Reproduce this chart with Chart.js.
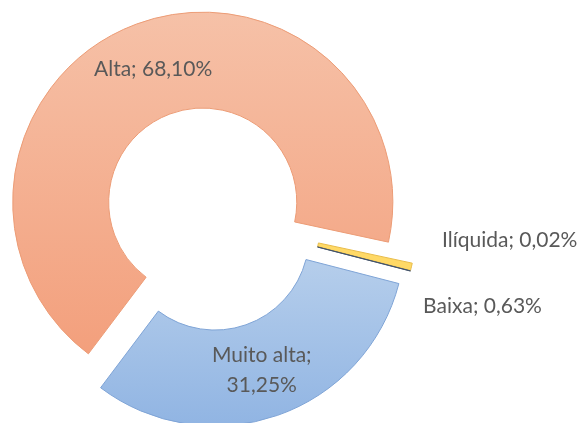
<!DOCTYPE html>
<html>
<head>
<meta charset="utf-8">
<script src="https://cdn.jsdelivr.net/npm/chart.js@4"></script>
<style>
  html, body { margin: 0; padding: 0; background: #fff; }
  #wrap { width: 586px; height: 423px; position: relative; }
</style>
</head>
<body>
<div id="wrap"><canvas id="liquidezChart"></canvas></div>
<script>
// categories and shares (%), clockwise from the start angle
const categories = ['Alta', 'Baixa', 'Ilíquida', 'Muito alta'];
const shares = [68.10, 0.63, 0.02, 31.25];

const EXPLODE = 18;      // px each slice is pulled out
const LABEL_FONT = '21px Lato';
const LABEL_COLOR = '#595959';
// small nudges for the two labels that sit outside the ring
const outsideNudge = { 'Baixa': { dx: 0, dy: 37 }, 'Ilíquida': { dx: 20, dy: -34 } };

const canvas = document.getElementById('liquidezChart');
const ctx = canvas.getContext('2d');

const altaGrad = ctx.createLinearGradient(0, 10, 0, 365);
altaGrad.addColorStop(0, '#F6C3AA');
altaGrad.addColorStop(1, '#F3A07D');
const muitoGrad = ctx.createLinearGradient(0, 250, 0, 425);
muitoGrad.addColorStop(0, '#B4CDEB');
muitoGrad.addColorStop(1, '#8DB2E2');

function fmt(v) {
  return v.toFixed(2).replace('.', ',') + '%';
}

// draw every arc pulled out along its own mid angle
const explodePlugin = {
  id: 'explode',
  beforeDatasetDraw(chart, args) {
    const c = chart.ctx;
    args.meta.data.forEach(arc => {
      const mid = (arc.startAngle + arc.endAngle) / 2;
      c.save();
      c.translate(Math.cos(mid) * EXPLODE, Math.sin(mid) * EXPLODE);
      arc.draw(c);
      c.restore();
    });
    return false;
  }
};

const labelPlugin = {
  id: 'sliceLabels',
  afterDatasetsDraw(chart) {
    const c = chart.ctx;
    const meta = chart.getDatasetMeta(0);
    c.save();
    c.font = LABEL_FONT;
    c.fillStyle = LABEL_COLOR;
    c.textBaseline = 'middle';
    meta.data.forEach((arc, i) => {
      const mid = (arc.startAngle + arc.endAngle) / 2;
      const text = categories[i] + '; ' + fmt(shares[i]);
      const nudge = outsideNudge[categories[i]];
      if (nudge) {
        const r = arc.outerRadius + EXPLODE + 12;
        c.textAlign = 'left';
        c.fillText(text, arc.x + Math.cos(mid) * r + nudge.dx, arc.y + Math.sin(mid) * r + nudge.dy);
        return;
      }
      const r = EXPLODE + (arc.innerRadius + arc.outerRadius) / 2;
      const x = arc.x + Math.cos(mid) * r;
      const y = arc.y + Math.sin(mid) * r;
      c.textAlign = 'center';
      if (c.measureText(text).width > 150) {
        c.fillText(categories[i] + ';', x, y - 15);
        c.fillText(fmt(shares[i]), x, y + 15);
      } else {
        c.fillText(text, x, y);
      }
    });
    c.restore();
  }
};

new Chart(ctx, {
  type: 'doughnut',
  data: {
    labels: categories,
    datasets: [{
      data: shares,
      backgroundColor: [altaGrad, '#FFD966', '#8497B0', muitoGrad],
      borderColor: ['#EC9C76', '#E8BC4A', '#44546A', '#7FA4D6'],
      borderWidth: 1,
      borderAlign: 'center'
    }]
  },
  options: {
    responsive: true,
    maintainAspectRatio: false,
    animation: false,
    rotation: 217,
    cutout: '49.5%',
    radius: 190,
    layout: { padding: { left: 0, right: 168, top: 15, bottom: 0 } },
    plugins: {
      legend: { display: false },
      tooltip: { enabled: false }
    }
  },
  plugins: [explodePlugin, labelPlugin]
});
</script>
</body>
</html>
